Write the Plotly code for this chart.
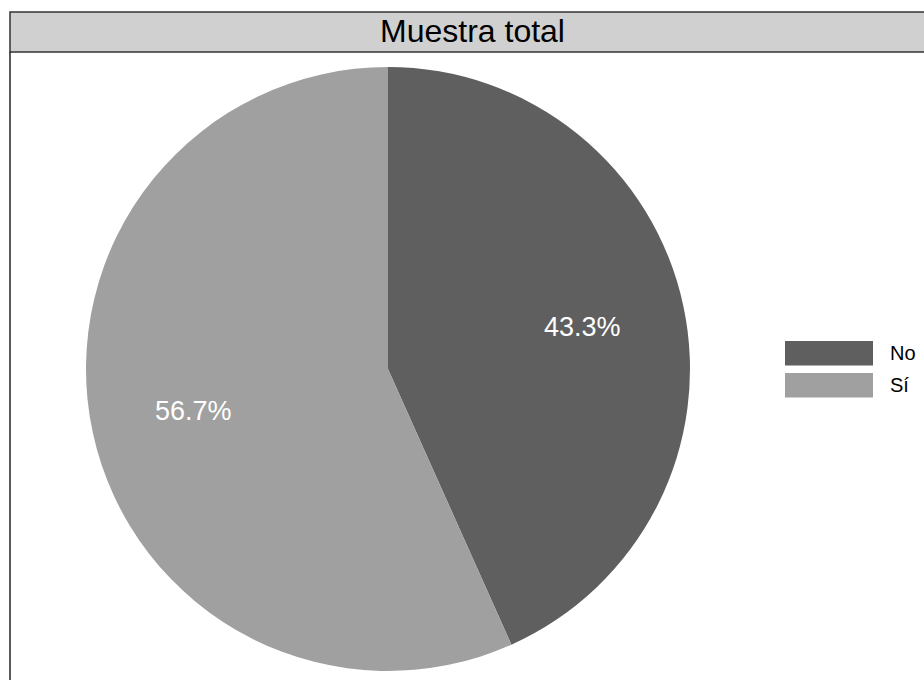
import math
import plotly.graph_objects as go

# Data
labels = ["No", "Sí"]
values = [43.3, 56.7]
colors = ["#5F5F5F", "#A0A0A0"]
title_text = "Muestra total"

W, H = 924, 680
FONT = "Liberation Sans, Arial, sans-serif"

def px(x):
    return x / W

def py(y):
    return 1 - y / H

# pie geometry (pixels)
cx, cy, r = 388, 369, 302

fig = go.Figure()
fig.add_trace(go.Pie(
    labels=labels, values=values, sort=False, direction="clockwise", rotation=0,
    marker=dict(colors=colors, line=dict(width=0)),
    textinfo="none", hoverinfo="label+percent", showlegend=False,
    domain=dict(x=[px(cx - r), px(cx + r)], y=[py(cy + r), py(cy - r)]),
))

annotations = []
# percentage labels placed at slice mid-angles
total = sum(values)
cum = 0
for v in values:
    mid = (cum + v / 2) / total * 2 * math.pi
    cum += v
    rr = 0.66 * r
    x = cx + rr * math.sin(mid)
    y = cy - rr * math.cos(mid)
    annotations.append(dict(
        x=px(x), y=py(y), xref="paper", yref="paper", text=f"{v / total * 100:.1f}%",
        showarrow=False, font=dict(family=FONT, size=27, color="white"),
        xanchor="center", yanchor="middle",
    ))

# strip title
annotations.append(dict(
    x=px(472), y=py(31), xref="paper", yref="paper", text=title_text, showarrow=False,
    font=dict(family=FONT, size=32, color="black"), xanchor="center", yanchor="middle",
))

shapes = [
    # strip
    dict(type="rect", xref="paper", yref="paper", x0=px(10), x1=1.02, y0=py(52), y1=py(12),
         fillcolor="#D0D0D0", line=dict(color="#333333", width=1.5), layer="below"),
    # panel left border
    dict(type="line", xref="paper", yref="paper", x0=px(10), x1=px(10), y0=py(52), y1=-0.02,
         line=dict(color="#222222", width=1.5)),
]

# legend keys
key_top = [341, 373]
for i, lab in enumerate(labels):
    shapes.append(dict(type="rect", xref="paper", yref="paper", x0=px(785), x1=px(873),
                       y0=py(key_top[i] + 24.5), y1=py(key_top[i]),
                       fillcolor=colors[i], line=dict(width=0)))
    annotations.append(dict(
        x=px(888), y=py(key_top[i] + 12), xref="paper", yref="paper", text=lab,
        showarrow=False, font=dict(family=FONT, size=20, color="black"),
        xanchor="left", yanchor="middle",
    ))

fig.update_layout(
    width=W, height=H, margin=dict(l=0, r=0, t=0, b=0),
    paper_bgcolor="white", plot_bgcolor="white",
    shapes=shapes, annotations=annotations, showlegend=False,
)

fig.write_html("out.html")
